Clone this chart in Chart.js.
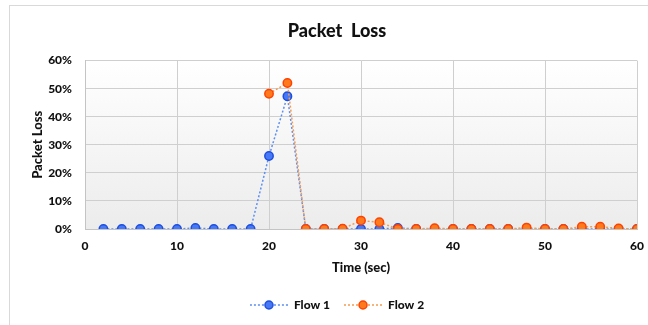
<!DOCTYPE html>
<html>
<head>
<meta charset="utf-8">
<script src="https://cdn.jsdelivr.net/npm/chart.js@4"></script>
<style>
  html, body { margin: 0; padding: 0; background: #fff; overflow: hidden; width: 648px; height: 325px; }
  #frame { position: absolute; left: 9px; top: 5px; width: 680px; height: 360px; border: 1px solid #d9d9d9; box-sizing: border-box; }
  #wrap { position: absolute; left: 10px; top: 6px; width: 654px; height: 319px; }
</style>
</head>
<body>
<div id="frame"></div>
<div id="wrap"><canvas id="c" width="654" height="319"></canvas></div>
<script>
// Time samples (seconds) and packet loss per flow, in percent
const timeFlow1 = [2, 4, 6, 8, 10, 12, 14, 16, 18, 20, 22, 24, 26, 28, 30, 32, 34, 36, 38, 40, 42, 44, 46, 48, 50, 52, 54, 56, 58, 60];
const lossFlow1 = [0, 0, 0, 0, 0, 0.35, 0, 0, 0, 26, 47.3, 0, 0, 0, 0, 0, 0.4, 0, 0, 0, 0, 0, 0, 0, 0, 0, 0, 0, 0, 0];
const timeFlow2 = [20, 22, 24, 26, 28, 30, 32, 34, 36, 38, 40, 42, 44, 46, 48, 50, 52, 54, 56, 58, 60];
const lossFlow2 = [48.2, 52, 0, 0, 0.1, 3, 2.4, 0, 0, 0.3, 0, 0, 0, 0, 0.5, 0, 0, 0.8, 0.8, 0.2, 0];
const seriesNames = ['Flow 1', 'Flow 2'];
const xTicks = [0, 10, 20, 30, 40, 50, 60];
const yTicks = [0, 10, 20, 30, 40, 50, 60];

const FONT = 'Lato, "Open Sans", "DejaVu Sans", sans-serif';
const WEIGHT = 900;
const styles = [
  { line: '#5c8ff2', fill: '#4778f5', border: '#1d4ee0' },
  { line: '#f59b4c', fill: '#ff7a1c', border: '#ff4200' }
];

function pts(xs, ys) { return xs.map((x, i) => ({ x: x, y: ys[i] / 100 })); }

// legend sample: dotted line with a marker in the middle
function legendIcon(s) {
  const cv = document.createElement('canvas');
  cv.width = 38; cv.height = 10;
  const g = cv.getContext('2d');
  g.strokeStyle = s.line; g.lineWidth = 1.5; g.setLineDash([2, 2]);
  g.beginPath(); g.moveTo(0, 5); g.lineTo(38, 5); g.stroke();
  g.setLineDash([]);
  g.beginPath(); g.arc(19, 5, 4, 0, Math.PI * 2);
  g.fillStyle = s.fill; g.fill();
  g.lineWidth = 1.5; g.strokeStyle = s.border; g.stroke();
  return cv;
}
const icons = styles.map(legendIcon);

// soft vertical gradient behind the plot area
const plotBackground = {
  id: 'plotBackground',
  beforeDraw(chart) {
    const { ctx, chartArea: a } = chart;
    const grad = ctx.createLinearGradient(0, a.top, 0, a.bottom);
    grad.addColorStop(0, '#ffffff');
    grad.addColorStop(1, '#ececec');
    ctx.save();
    ctx.fillStyle = grad;
    ctx.fillRect(a.left, a.top, a.right - a.left, a.bottom - a.top);
    ctx.restore();
  }
};

// title and legend are centred on the whole canvas, not only the area left of the right padding
const centerOnCanvas = {
  id: 'centerOnCanvas',
  afterLayout(chart) {
    if (chart.titleBlock) chart.titleBlock.right = chart.width;
    if (chart.legend) chart.legend.right = chart.width;
  }
};

function makeDataset(i, xs, ys) {
  const s = styles[i];
  return {
    label: seriesNames[i],
    data: pts(xs, ys),
    borderColor: s.line,
    borderWidth: 1.5,
    borderDash: [2, 2],
    backgroundColor: s.fill,
    pointBackgroundColor: s.fill,
    pointBorderColor: s.border,
    pointBorderWidth: 1.5,
    pointRadius: 4.2,
    pointStyle: 'circle',
    tension: 0,
    fill: false,
    order: 1 - i
  };
}

new Chart(document.getElementById('c'), {
  type: 'line',
  data: {
    datasets: [
      makeDataset(0, timeFlow1, lossFlow1),
      makeDataset(1, timeFlow2, lossFlow2)
    ]
  },
  plugins: [plotBackground, centerOnCanvas],
  options: {
    responsive: false,
    animation: false,
    layout: { padding: { left: 0, right: 27, top: 0, bottom: 4 } },
    plugins: {
      tooltip: { enabled: false },
      title: {
        display: true,
        text: 'Packet  Loss',
        color: '#111',
        font: { family: FONT, size: 18, weight: WEIGHT, lineHeight: 1.2 },
        padding: { top: 14, bottom: 19 }
      },
      legend: {
        position: 'bottom',
        labels: {
          usePointStyle: true,
          pointStyleWidth: 38,
          padding: 14,
          color: '#111',
          font: { family: FONT, size: 12, weight: WEIGHT },
          generateLabels(chart) {
            const items = Chart.defaults.plugins.legend.labels.generateLabels(chart);
            items.forEach(it => { it.pointStyle = icons[it.datasetIndex]; });
            return items.sort((a, b) => a.datasetIndex - b.datasetIndex);
          }
        }
      }
    },
    scales: {
      x: {
        type: 'linear',
        min: xTicks[0],
        max: xTicks[xTicks.length - 1],
        afterBuildTicks(scale) { scale.ticks = xTicks.map(v => ({ value: v })); },
        afterFit(scale) { scale.height = 56; },
        grid: { color: '#cfcfcf', lineWidth: 1, drawTicks: false },
        border: { display: true, color: '#c4c4c4', width: 1 },
        ticks: {
          padding: 10,
          color: '#111',
          font: { family: FONT, size: 12, weight: WEIGHT },
          maxRotation: 0
        },
        title: {
          display: true,
          text: 'Time (sec)',
          color: '#111',
          font: { family: FONT, size: 13, weight: WEIGHT, lineHeight: 1.2 },
          padding: { top: 0, bottom: 9 }
        }
      },
      y: {
        min: 0,
        max: 0.6,
        afterBuildTicks(scale) { scale.ticks = yTicks.map(v => ({ value: v / 100 })); },
        afterFit(scale) { scale.width = 75; },
        grid: { color: '#cfcfcf', lineWidth: 1, drawTicks: false },
        border: { display: true, color: '#c4c4c4', width: 1 },
        ticks: {
          padding: 13,
          color: '#111',
          font: { family: FONT, size: 12, weight: WEIGHT },
          callback: v => Math.round(v * 100) + '%'
        },
        title: {
          display: true,
          text: 'Packet Loss',
          color: '#111',
          font: { family: FONT, size: 13, weight: WEIGHT, lineHeight: 1.2 },
          padding: { top: 20, bottom: 0 }
        }
      }
    }
  }
});
</script>
</body>
</html>
